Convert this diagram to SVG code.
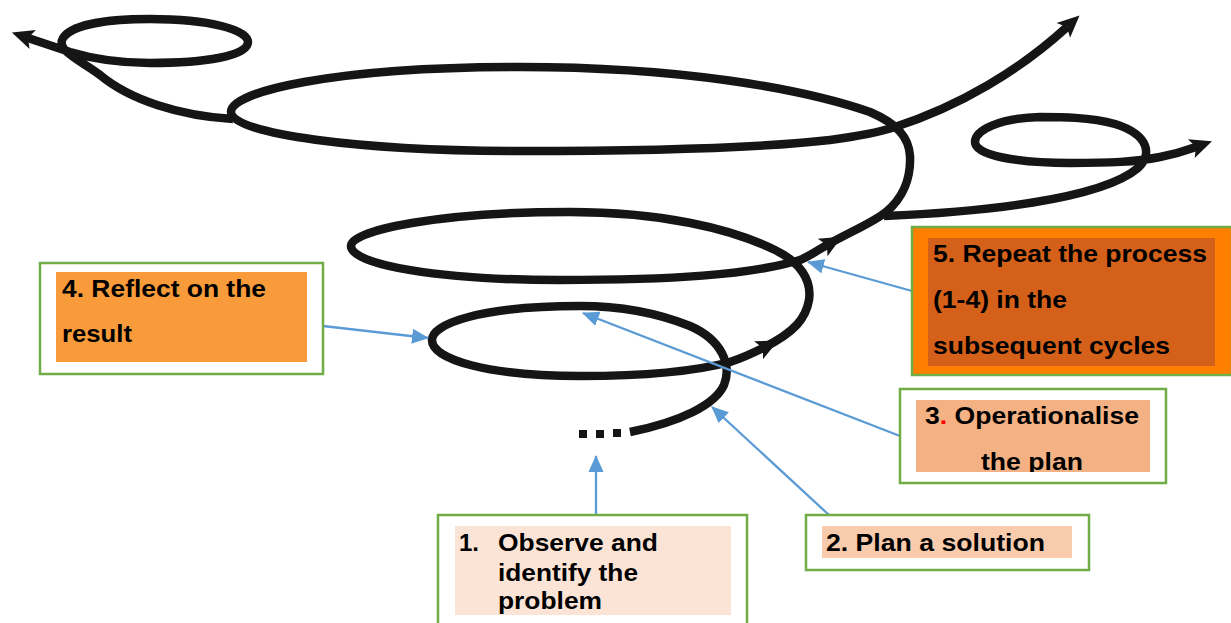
<svg xmlns="http://www.w3.org/2000/svg" width="1231" height="623" viewBox="0 0 1231 623">
<style>
.sp{fill:none;stroke:#151515;stroke-width:8.5;stroke-linecap:butt;stroke-linejoin:round}
.bl{fill:none;stroke:#5B9BD5;stroke-width:2.3}
.bx{fill:#fff;stroke:#70AD47;stroke-width:2.5}
.t{font-family:"Liberation Sans",Arial,sans-serif;font-weight:bold;font-size:24px;fill:#000}
</style>
<defs>
<marker id="ah" markerUnits="userSpaceOnUse" markerWidth="26" markerHeight="24" viewBox="-1 -12 26 24" refX="5" refY="0" orient="auto">
<path d="M0,-10 L22,0 L0,10 L5,0 Z" fill="#151515"/>
</marker>
<marker id="ba" markerUnits="userSpaceOnUse" markerWidth="18" markerHeight="16" viewBox="0 -8 18 16" refX="16" refY="0" orient="auto">
<path d="M0,-7.5 L17,0 L0,7.5 Z" fill="#5B9BD5"/>
</marker>
<clipPath id="c3"><rect x="916" y="400" width="234" height="72"/></clipPath>
<clipPath id="c1"><rect x="455" y="526" width="276" height="89"/></clipPath>
</defs>

<g id="spiral">
<rect x="579" y="430" width="8" height="8" fill="#151515"/>
<rect x="596" y="430" width="8" height="8" fill="#151515"/>
<rect x="613" y="429" width="8" height="8" fill="#151515"/>
<path class="sp" marker-end="url(#ah)" d="M 630,432 C 680,422 715,405 724,385 C 732,365 722,340 690,326 C 655,312 620,306 580,306 C 480,306 432,324 432,340 C 432,360 490,376 580,376 C 650,376 700,370 730,362 C 745,357 755,352 763,348"/>
<path class="sp" marker-end="url(#ah)" d="M 763,348 C 795,332 806,318 809,300 C 812,280 800,262 775,250 C 730,228 660,212 570,212 C 440,212 351,230 351,246 C 351,265 440,280 560,280 C 670,280 750,275 800,260 C 810,256 818,250 827,245"/>
<path class="sp" marker-end="url(#ah)" d="M 827,245 C 850,232 874,222 886,212 C 903,198 911,178 910,156 C 909,138 898,124 870,112 C 800,88 680,67 520,67 C 330,67 231,92 231,112 C 231,134 360,151 520,151 C 660,151 760,148 830,140 C 860,136 880,132 895,127 C 960,106 1020,70 1067,27"/>
<path class="sp" marker-end="url(#ah)" d="M 233,119 C 180,116 130,100 100,75 C 80,60 55,50 63,38 C 72,24 110,19 150,19 C 210,19 248,30 248,42 C 248,56 205,63 150,63 C 115,63 90,58 70,52 C 55,47 40,42 28,38"/>
<path class="sp" marker-end="url(#ah)" d="M 884,216 C 980,212 1100,200 1138,168 C 1152,155 1150,135 1115,124 C 1090,117 1060,117 1040,117 C 1000,118 975,130 975,142 C 975,156 1020,163 1070,163 C 1110,163 1135,162 1160,157 C 1175,154 1185,151 1196,147"/>
</g>

<g id="connectors">
<line class="bl" marker-end="url(#ba)" x1="323" y1="326" x2="428" y2="338"/>
<line class="bl" marker-end="url(#ba)" x1="596" y1="515" x2="596" y2="456"/>
<line class="bl" marker-end="url(#ba)" x1="829" y1="515" x2="712" y2="407"/>
<line class="bl" marker-end="url(#ba)" x1="900" y1="436" x2="583" y2="313"/>
<line class="bl" marker-end="url(#ba)" x1="912" y1="291" x2="808" y2="262"/>
</g>

<g id="box4">
<rect class="bx" x="40" y="263" width="283" height="111"/>
<rect x="56" y="272" width="251" height="90" fill="#F99B3A"/>
<text class="t" x="62" y="297" textLength="204" lengthAdjust="spacingAndGlyphs">4. Reflect on the</text>
<text class="t" x="62" y="342" textLength="70" lengthAdjust="spacingAndGlyphs">result</text>
</g>

<g id="box5">
<rect x="912" y="227" width="320" height="148" fill="#FF7F00" stroke="#70AD47" stroke-width="2.5"/>
<rect x="928" y="238" width="287" height="128" fill="#D5601A"/>
<text class="t" x="933" y="262" textLength="274" lengthAdjust="spacingAndGlyphs">5. Repeat the process</text>
<text class="t" x="933" y="308" textLength="134" lengthAdjust="spacingAndGlyphs">(1-4) in the</text>
<text class="t" x="933" y="354" textLength="237" lengthAdjust="spacingAndGlyphs">subsequent cycles</text>
</g>

<g id="box3">
<rect class="bx" x="900" y="389" width="266" height="94"/>
<rect x="916" y="400" width="234" height="72" fill="#F4B183"/>
<text class="t" x="925" y="424" textLength="214" lengthAdjust="spacingAndGlyphs">3<tspan fill="#FF0000">.</tspan> Operationalise</text>
<text class="t" x="981" y="470" textLength="102" lengthAdjust="spacingAndGlyphs" clip-path="url(#c3)">the plan</text>
</g>

<g id="box2">
<rect class="bx" x="806" y="515" width="283" height="55"/>
<rect x="822" y="526" width="250" height="32" fill="#F8CBAD"/>
<text class="t" x="826" y="551" textLength="219" lengthAdjust="spacingAndGlyphs">2. Plan a solution</text>
</g>

<g id="box1">
<rect class="bx" x="438" y="515" width="309" height="130"/>
<rect x="455" y="526" width="276" height="89" fill="#FBE4D5"/>
<text class="t" x="459" y="551">1.</text>
<text class="t" x="498" y="551" textLength="160" lengthAdjust="spacingAndGlyphs">Observe and</text>
<text class="t" x="498" y="581" textLength="140" lengthAdjust="spacingAndGlyphs">identify the</text>
<text class="t" x="498" y="609" textLength="104" lengthAdjust="spacingAndGlyphs" clip-path="url(#c1)">problem</text>
</g>
</svg>
